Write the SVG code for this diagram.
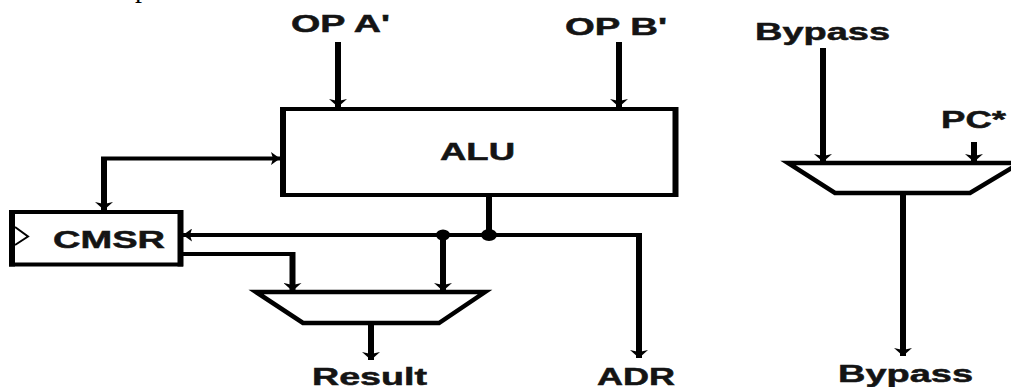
<svg xmlns="http://www.w3.org/2000/svg" width="1011" height="387" viewBox="0 0 1011 387">
<style>
text{font-family:"Liberation Sans",Arial,sans-serif;font-weight:bold;font-size:24px;fill:#141414;stroke:#141414;stroke-width:.5}
.v{fill:none;stroke:#000;stroke-width:6}
.n{fill:none;stroke:#000;stroke-width:4}
.e{fill:none;stroke:#000;stroke-width:4.500}
.h{fill:#000}
</style>
<defs>
<marker id="d" markerUnits="userSpaceOnUse" markerWidth="18" markerHeight="8" refX="9" refY="8" orient="0"><path d="M0 0L9 2L18 0L9 8Z" fill="#000"/></marker>
<marker id="r" markerUnits="userSpaceOnUse" markerWidth="9" markerHeight="13" refX="9" refY="6.500" orient="0"><path d="M0 0L9 6.500L0 13L2 6.500Z" fill="#000"/></marker>
<marker id="l" markerUnits="userSpaceOnUse" markerWidth="9" markerHeight="13" refX="0" refY="6.500" orient="0"><path d="M9 0L0 6.500L9 13L7 6.500Z" fill="#000"/></marker>
</defs>
<rect width="1011" height="387" fill="#fff"/>
<text x="142" y="-3" text-anchor="middle" style="font-family:'Liberation Serif',serif;font-weight:normal;font-size:28px;fill:#000;stroke:none">p</text>
<g id="alu">
<path class="n" d="M280 109H678M280 195H678"/><path class="v" d="M283 107V197M675.500 107V197"/>
<text x="440" y="160" textLength="75" lengthAdjust="spacingAndGlyphs">ALU</text>
</g>
<g id="cmsr">
<path class="n" d="M9 212H183M9 264.500H183"/><path class="v" d="M12 210V266.500M180.500 210V266.500"/>
<path d="M15 227L28 236.500L15 245" fill="none" stroke="#000" stroke-width="2"/>
<text x="53" y="248" textLength="112" lengthAdjust="spacingAndGlyphs">CMSR</text>
</g>
<g id="mux-result"><path class="e" d="M256 292H485L439 323H303Z"/></g>
<g id="mux-bypass"><path class="e" d="M788 163H1020L970 193H835Z"/></g>
<g id="labels">
<text x="291" y="32" textLength="99" lengthAdjust="spacingAndGlyphs">OP A'</text>
<text x="565" y="35" textLength="102" lengthAdjust="spacingAndGlyphs">OP B'</text>
<text x="755" y="40" textLength="135" lengthAdjust="spacingAndGlyphs">Bypass</text>
<text x="941" y="128" textLength="65" lengthAdjust="spacingAndGlyphs">PC*</text>
<text x="312" y="385" textLength="115" lengthAdjust="spacingAndGlyphs">Result</text>
<text x="597" y="385" textLength="78" lengthAdjust="spacingAndGlyphs">ADR</text>
<text x="838" y="382" textLength="135" lengthAdjust="spacingAndGlyphs">Bypass</text>
</g>
<g id="connectors">
<path class="v" marker-end="url(#d)" d="M338 42V107"/>
<path class="v" marker-end="url(#d)" d="M619 42V107"/>
<path class="v" marker-end="url(#d)" d="M823 48V162"/>
<path class="v" marker-end="url(#d)" d="M974 142V162"/>
<path class="v" marker-end="url(#d)" d="M903 195V356"/>
<path class="n" marker-end="url(#r)" d="M101 158.500H280"/>
<path class="v" marker-end="url(#d)" d="M104 157V210"/>
<path class="v" d="M489 197V235"/>
<path class="n" marker-start="url(#l)" d="M183 235H641"/>
<path class="v" marker-end="url(#d)" d="M639 233V358"/>
<path class="n" d="M183 254H295"/>
<path class="v" marker-end="url(#d)" d="M292.500 252V291"/>
<path class="v" marker-end="url(#d)" d="M443 235V291"/>
<path class="v" marker-end="url(#d)" d="M371 325V360"/>
<ellipse class="h" cx="443" cy="235" rx="7" ry="5.500"/>
<ellipse class="h" cx="489" cy="235" rx="8" ry="6"/>
</g>
</svg>
